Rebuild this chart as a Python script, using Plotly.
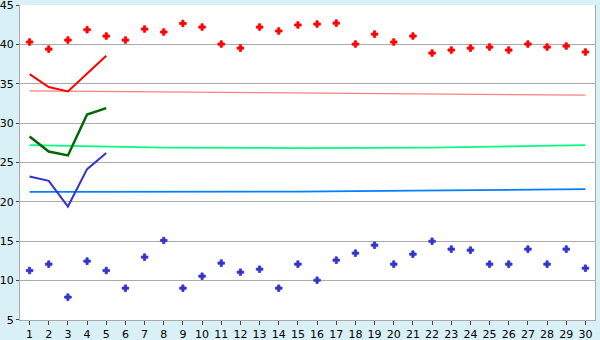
import plotly.graph_objects as go

days = list(range(1, 31))

red_points = [40.3, 39.4, 40.55, 41.86, 41.06, 40.55, 41.95, 41.57, 42.66, 42.2,
              40.04, 39.53, 42.2, 41.7, 42.46, 42.58, 42.7, 40.04, 41.3, 40.3,
              41.06, 38.9, 39.28, 39.53, 39.66, 39.28, 40.04, 39.66, 39.79, 39.03]
blue_points = [11.28, 12.09, 7.9, 12.47, 11.28, 9.04, 12.98, 15.1, 9.04, 10.56,
               12.22, 11.07, 11.45, 9.04, 12.09, 10.05, 12.6, 13.49, 14.5, 12.09,
               13.36, 15.0, 14.0, 13.87, 12.09, 12.09, 14.0, 12.09, 14.0, 11.58]

line_days = [1, 2, 3, 4, 5]
red_line = [36.23, 34.58, 34.02, 36.3, 38.56]
green_line = [28.3, 26.4, 25.9, 31.1, 31.9]
blue_line = [23.22, 22.67, 19.41, 24.16, 26.2]

red_trend_x = [1, 30]
red_trend = [34.1, 33.55]
green_trend_x = [1, 8, 15, 22, 30]
green_trend = [27.2, 26.9, 26.83, 26.9, 27.2]
blue_trend_x = [1, 15, 21, 28, 30]
blue_trend = [21.28, 21.3, 21.42, 21.55, 21.62]

y_ticks = [5, 10, 15, 20, 25, 30, 35, 40, 45]

fig = go.Figure()
fig.add_trace(go.Scatter(x=red_trend_x, y=red_trend, mode="lines",
                         line=dict(color="#ff8080", width=1.2)))
fig.add_trace(go.Scatter(x=green_trend_x, y=green_trend, mode="lines",
                         line=dict(color="#00ff80", width=1.8)))
fig.add_trace(go.Scatter(x=blue_trend_x, y=blue_trend, mode="lines",
                         line=dict(color="#0080ff", width=1.8)))
fig.add_trace(go.Scatter(x=line_days, y=red_line, mode="lines",
                         line=dict(color="#ff0000", width=2)))
fig.add_trace(go.Scatter(x=line_days, y=green_line, mode="lines",
                         line=dict(color="#006600", width=2.5)))
fig.add_trace(go.Scatter(x=line_days, y=blue_line, mode="lines",
                         line=dict(color="#3333cc", width=2)))
fig.add_trace(go.Scatter(x=days, y=red_points, mode="markers",
                         marker=dict(symbol="cross", size=5.5, color="#ff0000",
                                     line=dict(color="#ff0000", width=0.8))))
fig.add_trace(go.Scatter(x=days, y=blue_points, mode="markers",
                         marker=dict(symbol="cross", size=5.5, color="#3333cc",
                                     line=dict(color="#3333cc", width=0.8))))

fig.update_layout(
    width=600, height=340,
    margin=dict(l=20, r=5, t=5, b=20, autoexpand=False),
    paper_bgcolor="#d9f0f6",
    plot_bgcolor="#ffffff",
    showlegend=False,
    font=dict(family="DejaVu Sans", size=11, color="#000000"),
)
fig.update_xaxes(
    range=[0.5, 30.5], tickmode="array", tickvals=days, ticktext=[str(d) for d in days],
    showgrid=False, showline=True, linecolor="#aaaaaa", linewidth=1,
    ticks="outside", ticklen=4, tickcolor="#444444", zeroline=False, automargin=False,
)
fig.update_yaxes(
    range=[4.999, 45.001], tickmode="array", tickvals=y_ticks,
    ticktext=[str(v) for v in y_ticks], ticklabeloverflow="allow",
    showgrid=True, gridcolor="#aaaaaa", gridwidth=1,
    showline=True, linecolor="#aaaaaa", linewidth=1, mirror=True,
    ticks="outside", ticklen=3, tickcolor="#444444", zeroline=False, automargin=False,
)

fig.write_html("out.html")
